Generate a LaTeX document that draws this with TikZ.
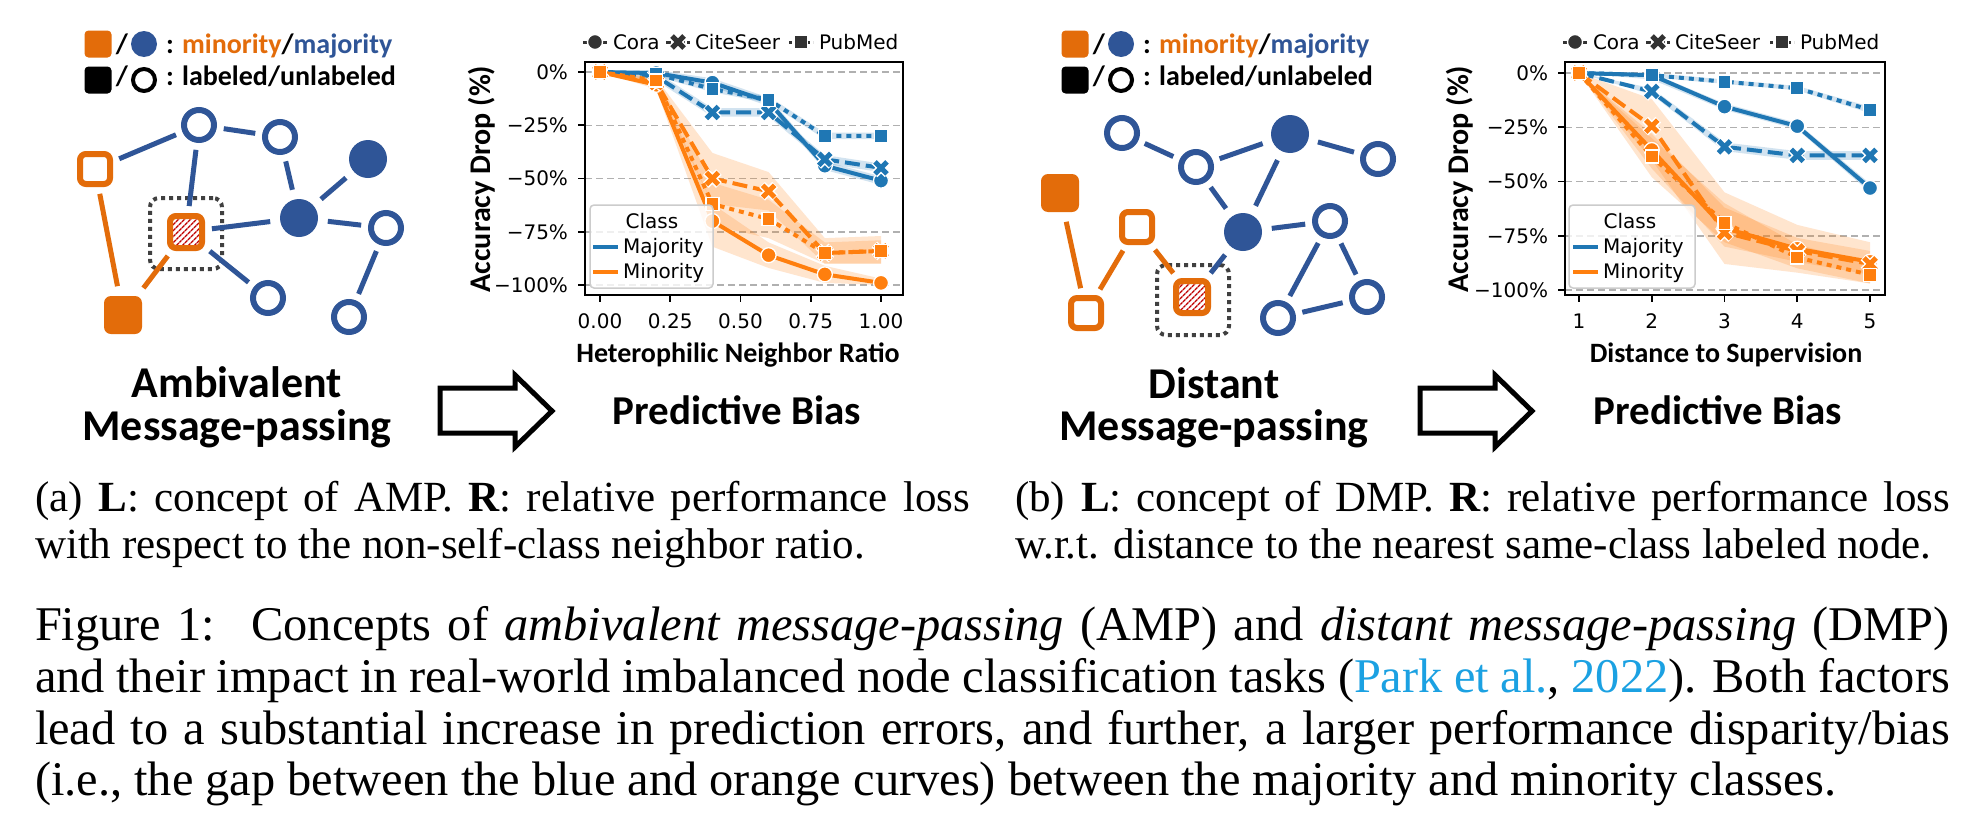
\documentclass[tikz,border=0pt]{standalone}
\usepackage{fontspec}
\setmainfont{Liberation Serif}
\newfontfamily\carl{Carlito}
\newfontfamily\dvs{DejaVu Sans}
\usetikzlibrary{patterns.meta}
\definecolor{gblue}{HTML}{2F5597}
\definecolor{gorange}{HTML}{E36C0A}
\definecolor{pblue}{HTML}{1F77B4}
\definecolor{porange}{HTML}{FF7F0E}
\definecolor{hatchred}{HTML}{C00000}
\definecolor{citeblue}{HTML}{1BA1E2}
\definecolor{legdark}{HTML}{333333}
\definecolor{gridgray}{HTML}{B0B0B0}
\newcommand\tickfont{\dvs\fontsize{20pt}{24pt}\selectfont}
\newcommand\axfont{\carl\bfseries\fontsize{28pt}{32pt}\selectfont}
\newcommand\yaxfont{\carl\bfseries\fontsize{30pt}{34pt}\selectfont}
\newcommand\legfont{\carl\bfseries\fontsize{28pt}{32pt}\selectfont}
\newcommand\titlefont{\carl\bfseries\fontsize{44pt}{48pt}\selectfont}
\newcommand\biasfont{\carl\bfseries\fontsize{41pt}{46pt}\selectfont}
\newcommand\capfont{\fontsize{43pt}{47pt}\selectfont}
\newcommand\maincapfont{\fontsize{48.4pt}{52pt}\selectfont}
\tikzset{
 every node/.style={inner sep=0pt, outer sep=0pt},
 ocirc/.style={circle, draw=gblue, line width=6pt, fill=white, minimum size=30pt},
 fcirc/.style={circle, fill=gblue, minimum size=38pt},
 osq/.style={draw=gorange, line width=6pt, fill=white, minimum size=30pt, rounded corners=6pt},
 fsq/.style={fill=gorange, minimum size=38pt, rounded corners=7pt},
 hsq/.style={draw=gorange, line width=6pt, minimum size=32pt, rounded corners=6pt,
   pattern={Lines[angle=45,distance=4pt,line width=1.4pt]}, pattern color=hatchred},
 bedge/.style={draw=gblue, line width=5pt, shorten <=10pt, shorten >=10pt},
 oedge/.style={draw=gorange, line width=5pt, shorten <=10pt, shorten >=10pt},
 focusbox/.style={draw=black!75, line width=4pt, dash pattern=on 4pt off 4pt, rounded corners=9pt},
 hollowarrow/.style={draw=black, line width=5pt, line join=miter, fill=white},
 gridline/.style={draw=gridgray, line width=1.5pt, dash pattern=on 7pt off 4pt},
 axframe/.style={draw=black, line width=2.2pt},
 tickline/.style={draw=black, line width=1.8pt},
 solidser/.style={line width=4pt, line join=round},
 dashser/.style={line width=4pt, line join=round, dash pattern=on 15pt off 6pt},
 dotser/.style={line width=4pt, dash pattern=on 5pt off 5pt},
 oband/.style={fill=porange, opacity=0.2},
 bband/.style={fill=pblue, opacity=0.2},
 innerleg/.style={draw=black!20, fill=white, fill opacity=0.8, line width=1.5pt, rounded corners=4pt},
 pics/mkC/.style={code={\fill[#1, draw=white, line width=1.3pt] (0,0) circle (7.5);}},
 pics/mkS/.style={code={\fill[#1, draw=white, line width=1.3pt] (-6.5,-6.5) rectangle (6.5,6.5);}},
 pics/mkX/.style={code={\draw[white, line width=8pt] (-6.5,-6.5)--(6.5,6.5) (-6.5,6.5)--(6.5,-6.5);
   \draw[#1, line width=5pt] (-6,-6)--(6,6) (-6,6)--(6,-6);}},
}
\newcommand\Lser[3]{%
 \draw[#1] ({lx(0)},{ly(0)}) \foreach \px/\py in {#3}{ -- ({lx(\px)},{ly(\py)}) };
 \foreach \px/\py in {0/0,#3}{ \pic at ({lx(\px)},{ly(\py)}) {#2}; }}
\newcommand\Rser[3]{%
 \draw[#1] ({rx(1)},{ry(0)}) \foreach \px/\py in {#3}{ -- ({rx(\px)},{ry(\py)}) };
 \foreach \px/\py in {1/0,#3}{ \pic at ({rx(\px)},{ry(\py)}) {#2}; }}
\newcommand\Lband[3]{%
 \fill[#1] ({lx(0)},{ly(0)}) \foreach \px/\py in {#2}{ -- ({lx(\px)},{ly(\py)}) }
   \foreach \px/\py in {#3}{ -- ({lx(\px)},{ly(\py)}) } -- cycle;}
\newcommand\Rband[3]{%
 \fill[#1] ({rx(1)},{ry(0)}) \foreach \px/\py in {#2}{ -- ({rx(\px)},{ry(\py)}) }
   \foreach \px/\py in {#3}{ -- ({rx(\px)},{ry(\py)}) } -- cycle;}
\begin{document}
\begin{tikzpicture}[x=1pt,y=-1pt,
  declare function={lx(\x)=600+281*(\x); ly(\y)=72-2.13*(\y); rx(\x)=1579+72.75*((\x)-1); ry(\y)=73-2.17*(\y);}]
\useasboundingbox (0,0) rectangle (1975,830);
\fill[white] (0,0) rectangle (1975,830);

% ================= LEFT GRAPH (AMP) =================
\node[fill=gorange, minimum size=27pt, rounded corners=4pt] (lgA1) at (98,44) {};
\node[font=\legfont, anchor=base] (lgA2) at (122,53) {/};
\node[circle, fill=gblue, minimum size=26pt] (lgA3) at (144,44) {};
\node[font=\legfont, anchor=base west] (lgA4) at (166,53) {: \textcolor{gorange}{minority}/\textcolor{gblue}{majority}};
\node[fill=black, minimum size=27pt, rounded corners=4pt] (lgA5) at (98,80) {};
\node[font=\legfont, anchor=base] (lgA6) at (122,85) {/};
\node[circle, draw=black, line width=4pt, minimum size=22pt] (lgA7) at (144,80) {};
\node[font=\legfont, anchor=base west] (lgA8) at (166,85) {: labeled/unlabeled};

\node[focusbox, minimum width=72pt, minimum height=71pt] (FA) at (186,233.5) {};
\node[osq] (A1) at (95,169) {};
\node[ocirc] (A2) at (199,125) {};
\node[ocirc] (A3) at (280,137) {};
\node[fcirc] (A4) at (368,159) {};
\node[fcirc] (A5) at (299,218) {};
\node[ocirc] (A6) at (386,228) {};
\node[hsq] (A7) at (186,232) {};
\node[ocirc] (A8) at (268,298) {};
\node[ocirc] (A9) at (349,317) {};
\node[fsq] (A10) at (123,315) {};
\draw[bedge] (A1) -- (A2);
\draw[bedge] (A2) -- (A3);
\draw[bedge] (A2) -- (A7);
\draw[bedge] (A3) -- (A5);
\draw[bedge] (A5) -- (A4);
\draw[bedge] (A5) -- (A6);
\draw[bedge] (A6) -- (A9);
\draw[bedge] (A7) -- (A5);
\draw[bedge] (A7) -- (A8);
\draw[oedge] (A7) -- (A10);
\draw[oedge] (A1) -- (A10);

\node[font=\titlefont, anchor=base] (tA1) at (237,397) {Ambivalent};
\node[font=\titlefont, anchor=base] (tA2) at (237,440) {Message-passing};
\draw[hollowarrow] (440,388) -- (515,388) -- (515,375) -- (552,411) -- (515,447) -- (515,433) -- (440,433) -- cycle;
\node[font=\biasfont, anchor=base] (pbA) at (737,424) {Predictive Bias};

% ================= LEFT PLOT =================
\foreach \v in {0,-25,-50,-75,-100}{
  \draw[gridline] (585,{ly(\v)}) -- (903,{ly(\v)});
  \draw[tickline] (578,{ly(\v)}) -- (585,{ly(\v)});
}
\node[font=\tickfont, anchor=east] at (568,{ly(0)}) {0\%};
\node[font=\tickfont, anchor=east] at (568,{ly(-25)}) {−25\%};
\node[font=\tickfont, anchor=east] at (568,{ly(-50)}) {−50\%};
\node[font=\tickfont, anchor=east] at (568,{ly(-75)}) {−75\%};
\node[font=\tickfont, anchor=east] at (568,{ly(-100)}) {−100\%};
\foreach \v/\t in {0/0.00,0.25/0.25,0.5/0.50,0.75/0.75,1/1.00}{
  \draw[tickline] ({lx(\v)},295) -- ({lx(\v)},302);
  \node[font=\tickfont, anchor=base] at ({lx(\v)},328) {\t};
}
\Lband{bband}{0.2/1,0.4/-3,0.6/-12,0.8/-42,1/-49}{1/-53,0.8/-46,0.6/-16,0.4/-7,0.2/-2}
\Lband{bband}{0.2/0,0.4/-17,0.6/-17,0.8/-39,1/-43}{1/-47,0.8/-43,0.6/-21,0.4/-21,0.2/-4}
\Lband{bband}{0.2/0,0.4/-6.5,0.6/-11.5,0.8/-28.5,1/-28.5}{1/-31.5,0.8/-31.5,0.6/-14.5,0.4/-9.5,0.2/-2}
\Lband{oband}{0.2/-4,0.4/-62,0.6/-80,0.8/-91,1/-97}{1/-100,0.8/-99,0.6/-92,0.4/-82,0.2/-8}
\Lband{oband}{0.2/-3,0.4/-38,0.6/-47,0.8/-78,1/-77}{1/-90,0.8/-90,0.6/-65,0.4/-62,0.2/-7}
\Lband{oband}{0.2/-2,0.4/-52,0.6/-60,0.8/-80,1/-79}{1/-90,0.8/-90,0.6/-78,0.4/-72,0.2/-6}
\Lser{pblue,solidser}{mkC=pblue}{0.2/-0.5,0.4/-5,0.6/-14,0.8/-44,1/-51}
\Lser{pblue,dashser}{mkX=pblue}{0.2/-2,0.4/-19,0.6/-19,0.8/-41,1/-45}
\Lser{pblue,dotser}{mkS=pblue}{0.2/-1,0.4/-8,0.6/-13,0.8/-30,1/-30}
\Lser{porange,solidser}{mkC=porange}{0.2/-6,0.4/-70,0.6/-86,0.8/-95,1/-99}
\Lser{porange,dashser}{mkX=porange}{0.2/-5,0.4/-50,0.6/-56,0.8/-85,1/-84}
\Lser{porange,dotser}{mkS=porange}{0.2/-4,0.4/-62,0.6/-69,0.8/-85,1/-84}
\draw[innerleg] (590,205) rectangle (713,288);
\node[font=\tickfont, anchor=base] at (652,228) {Class};
\draw[pblue, line width=4pt] (593,247) -- (618,247);
\node[font=\tickfont, anchor=base west] at (623,253) {Majority};
\draw[porange, line width=4pt] (593,272) -- (618,272);
\node[font=\tickfont, anchor=base west] at (623,278) {Minority};
\draw[axframe] (585,62) rectangle (903,295);
\draw[legdark, line width=3pt] (583,42) -- (607,42);
\pic at (595,42) {mkC=legdark};
\node[font=\tickfont, anchor=base west] at (613,49) {Cora};
\draw[legdark, line width=3pt, dash pattern=on 5pt off 2pt] (666,42) -- (690,42);
\pic at (678,42) {mkX=legdark};
\node[font=\tickfont, anchor=base west] at (695,49) {CiteSeer};
\draw[legdark, line width=3pt, dash pattern=on 3pt off 3pt] (789,42) -- (813,42);
\pic at (801,42) {mkS=legdark};
\node[font=\tickfont, anchor=base west] at (819,49) {PubMed};
\node[font=\yaxfont, rotate=90] at (482,179) {Accuracy Drop (\%)};
\node[font=\axfont, anchor=base] at (738,362) {Heterophilic Neighbor Ratio};

% ================= RIGHT GRAPH (DMP) =================
\node[fill=gorange, minimum size=27pt, rounded corners=4pt] (lgB1) at (1075,44) {};
\node[font=\legfont, anchor=base] (lgB2) at (1099,53) {/};
\node[circle, fill=gblue, minimum size=26pt] (lgB3) at (1121,44) {};
\node[font=\legfont, anchor=base west] (lgB4) at (1143,53) {: \textcolor{gorange}{minority}/\textcolor{gblue}{majority}};
\node[fill=black, minimum size=27pt, rounded corners=4pt] (lgB5) at (1075,80) {};
\node[font=\legfont, anchor=base] (lgB6) at (1099,85) {/};
\node[circle, draw=black, line width=4pt, minimum size=22pt] (lgB7) at (1121,80) {};
\node[font=\legfont, anchor=base west] (lgB8) at (1143,85) {: labeled/unlabeled};

\node[focusbox, minimum width=72pt, minimum height=70pt] (FB) at (1193,300) {};
\node[fsq] (B1) at (1060,193) {};
\node[osq] (B2) at (1137,227) {};
\node[osq] (B3) at (1086,313) {};
\node[hsq] (B4) at (1192,297) {};
\node[ocirc] (B5) at (1122,133) {};
\node[ocirc] (B6) at (1196,167) {};
\node[fcirc] (B7) at (1290,134) {};
\node[ocirc] (B8) at (1378,159) {};
\node[fcirc] (B9) at (1243,232) {};
\node[ocirc] (B10) at (1330,221) {};
\node[ocirc] (B11) at (1367,297) {};
\node[ocirc] (B12) at (1278,318) {};
\draw[oedge] (B1) -- (B3);
\draw[oedge] (B3) -- (B2);
\draw[oedge] (B2) -- (B4);
\draw[bedge] (B4) -- (B9);
\draw[bedge] (B5) -- (B6);
\draw[bedge] (B6) -- (B7);
\draw[bedge] (B6) -- (B9);
\draw[bedge] (B7) -- (B8);
\draw[bedge] (B7) -- (B9);
\draw[bedge] (B9) -- (B10);
\draw[bedge] (B10) -- (B11);
\draw[bedge] (B10) -- (B12);
\draw[bedge] (B12) -- (B11);

\node[font=\titlefont, anchor=base] (tB1) at (1214,398) {Distant};
\node[font=\titlefont, anchor=base] (tB2) at (1214,440) {Message-passing};
\draw[hollowarrow] (1420,388) -- (1495,388) -- (1495,375) -- (1532,411) -- (1495,447) -- (1495,433) -- (1420,433) -- cycle;
\node[font=\biasfont, anchor=base] (pbB) at (1718,424) {Predictive Bias};

% ================= RIGHT PLOT =================
\foreach \v in {0,-25,-50,-75,-100}{
  \draw[gridline] (1565,{ry(\v)}) -- (1885,{ry(\v)});
  \draw[tickline] (1558,{ry(\v)}) -- (1565,{ry(\v)});
}
\node[font=\tickfont, anchor=east] at (1548,{ry(0)}) {0\%};
\node[font=\tickfont, anchor=east] at (1548,{ry(-25)}) {−25\%};
\node[font=\tickfont, anchor=east] at (1548,{ry(-50)}) {−50\%};
\node[font=\tickfont, anchor=east] at (1548,{ry(-75)}) {−75\%};
\node[font=\tickfont, anchor=east] at (1548,{ry(-100)}) {−100\%};
\foreach \v in {1,2,3,4,5}{
  \draw[tickline] ({rx(\v)},295) -- ({rx(\v)},302);
  \node[font=\tickfont, anchor=base] at ({rx(\v)},328) {\v};
}
\Rband{bband}{2/0,3/-14,4/-23,5/-51}{5/-55,4/-26,3/-17,2/-3}
\Rband{bband}{2/-7,3/-32,4/-36,5/-36}{5/-40,4/-40,3/-36,2/-10}
\Rband{bband}{2/0,3/-3,4/-6,5/-15.5}{5/-18.5,4/-8,3/-5,2/-2}
\Rband{oband}{2/-28,3/-62,4/-76,5/-82}{5/-93,4/-87,3/-80,2/-44}
\Rband{oband}{2/-12,3/-55,4/-70,5/-78}{5/-97,4/-92,3/-88,2/-40}
\Rband{oband}{2/-30,3/-60,4/-79,5/-88}{5/-97,4/-90,3/-78,2/-48}
\Rser{pblue,solidser}{mkC=pblue}{2/-1,3/-15.5,4/-24.5,5/-53}
\Rser{pblue,dashser}{mkX=pblue}{2/-8.5,3/-34,4/-38,5/-38}
\Rser{pblue,dotser}{mkS=pblue}{2/-1,3/-4,4/-7,5/-17}
\Rser{porange,solidser}{mkC=porange}{2/-35.5,3/-71.5,4/-81,5/-87}
\Rser{porange,dashser}{mkX=porange}{2/-24.5,3/-73.5,4/-82,5/-88}
\Rser{porange,dotser}{mkS=porange}{2/-38.5,3/-69,4/-85,5/-93}
\draw[innerleg] (1569,205) rectangle (1695,288);
\node[font=\tickfont, anchor=base] at (1630,228) {Class};
\draw[pblue, line width=4pt] (1573,247) -- (1598,247);
\node[font=\tickfont, anchor=base west] at (1603,253) {Majority};
\draw[porange, line width=4pt] (1573,272) -- (1598,272);
\node[font=\tickfont, anchor=base west] at (1603,278) {Minority};
\draw[axframe] (1565,62) rectangle (1885,295);
\draw[legdark, line width=3pt] (1563,42) -- (1587,42);
\pic at (1575,42) {mkC=legdark};
\node[font=\tickfont, anchor=base west] at (1593,49) {Cora};
\draw[legdark, line width=3pt, dash pattern=on 5pt off 2pt] (1646,42) -- (1670,42);
\pic at (1658,42) {mkX=legdark};
\node[font=\tickfont, anchor=base west] at (1675,49) {CiteSeer};
\draw[legdark, line width=3pt, dash pattern=on 3pt off 3pt] (1770,42) -- (1794,42);
\pic at (1782,42) {mkS=legdark};
\node[font=\tickfont, anchor=base west] at (1800,49) {PubMed};
\node[font=\yaxfont, rotate=90] at (1460,179) {Accuracy Drop (\%)};
\node[font=\axfont, anchor=base] at (1726,362) {Distance to Supervision};

% ================= CAPTIONS =================
\node[font=\capfont, anchor=base west] (ca1) at (35,511) {\makebox[935pt][s]{(a)\hskip 16pt\textbf{L}: concept of AMP. \textbf{R}: relative performance loss}};
\node[font=\capfont, anchor=base west] (ca2) at (35,558) {with respect to the non-self-class neighbor ratio.};
\node[font=\capfont, anchor=base west] (cb1) at (1015,511) {\makebox[935pt][s]{(b)\hskip 16pt\textbf{L}: concept of DMP. \textbf{R}: relative performance loss}};
\node[font=\capfont, anchor=base west] (cb2) at (1015,558) {w.r.t. distance to the nearest same-class labeled node.};
\node[font=\maincapfont, anchor=base west] (m1) at (35,640) {\makebox[1915pt][s]{Figure 1:\hskip 36pt Concepts of \textit{ambivalent message-passing} (AMP) and \textit{distant message-passing} (DMP)}};
\node[font=\maincapfont, anchor=base west] (m2) at (35,692) {\makebox[1915pt][s]{and their impact in real-world imbalanced node classification tasks (\textcolor{citeblue}{Park et al.}, \textcolor{citeblue}{2022}). Both factors}};
\node[font=\maincapfont, anchor=base west] (m3) at (35,744) {\makebox[1915pt][s]{lead to a substantial increase in prediction errors, and further, a larger performance disparity/bias}};
\node[font=\maincapfont, anchor=base west] (m4) at (35,795) {(i.e., the gap between the blue and orange curves) between the majority and minority classes.};
\end{tikzpicture}
\end{document}
